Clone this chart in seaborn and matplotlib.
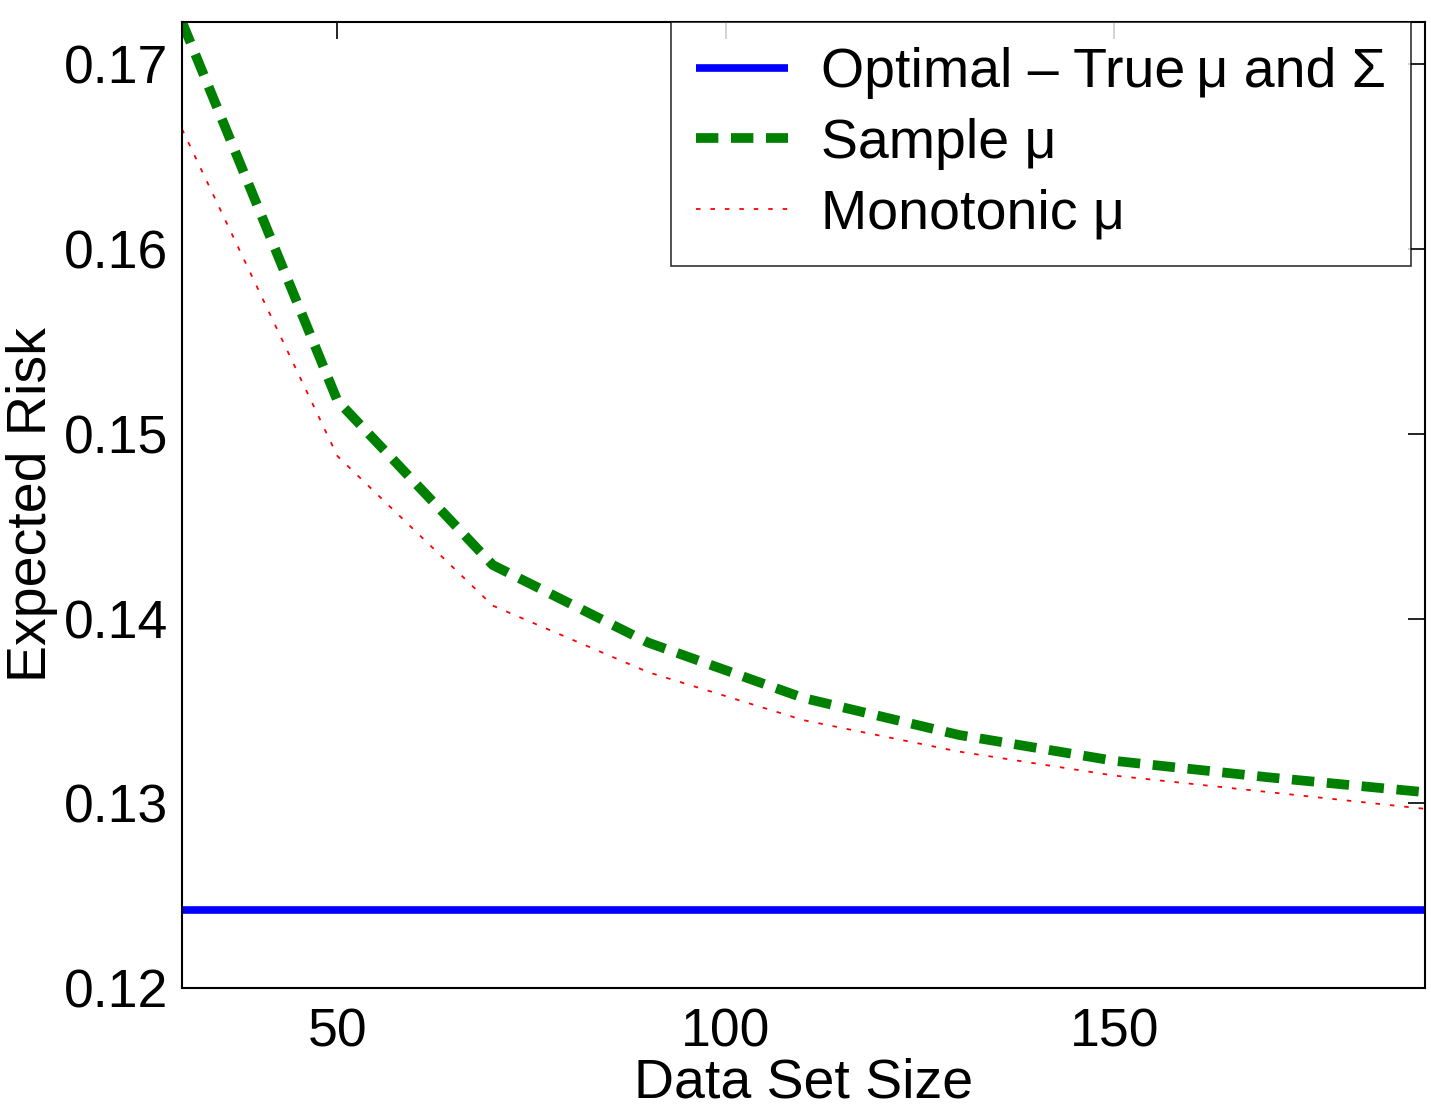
import matplotlib
matplotlib.use("Agg")
import matplotlib.pyplot as plt
import seaborn as sns
import pandas as pd

sizes = [30, 50, 70, 90, 110, 130, 150, 170, 190]
optimal = [0.1242] * len(sizes)
sample_mu = [0.1723, 0.1518, 0.1429, 0.1387, 0.1357, 0.1337, 0.1323, 0.1314, 0.1306]
monotonic_mu = [0.1665, 0.1488, 0.1407, 0.1371, 0.1345, 0.1328, 0.1315, 0.1306, 0.1297]

labels = ["Optimal \u2013 True\u2009\u03bc and \u03a3", "Sample \u03bc", "Monotonic \u03bc"]

df = pd.DataFrame({
    "size": sizes * 3,
    "risk": optimal + sample_mu + monotonic_mu,
    "series": [labels[0]] * len(sizes) + [labels[1]] * len(sizes) + [labels[2]] * len(sizes),
})

sns.set_theme(style="white")
plt.rcParams['font.family'] = ['Liberation Sans', 'DejaVu Sans']
plt.rcParams['text.color'] = 'black'
plt.rcParams['axes.labelcolor'] = 'black'

fig = plt.figure(figsize=(14.31, 11.09), dpi=100)
ax = fig.add_axes([0.1272, 0.1091, 0.9958 - 0.1272, 0.9802 - 0.1091])

palette = {labels[0]: "#0000ff", labels[1]: "#008000", labels[2]: "#ff0000"}
sns.lineplot(data=df, x="size", y="risk", hue="series", palette=palette, ax=ax, legend=False)

lines = ax.get_lines()
styles = [
    dict(lw=5.5, ls="-"),
    dict(lw=7.0, ls=(0, (2.3, 1.3))),
    dict(lw=1.3, ls=(0, (2.5, 5.5))),
]
for ln, st in zip(lines, styles):
    ln.set_linewidth(st["lw"])
    ln.set_linestyle(st["ls"])
    ln.set_solid_capstyle("butt")
    ln.set_dash_capstyle("butt")

ax.set_xlim(30, 190)
ax.set_ylim(0.12, 0.1723)
ax.set_xticks([50, 100, 150])
ax.set_yticks([0.12, 0.13, 0.14, 0.15, 0.16, 0.17])
ax.set_yticklabels(["0.12", "0.13", "0.14", "0.15", "0.16", "0.17"])
ax.tick_params(direction="in", length=12, width=1.2, top=True, right=True,
               labelsize=38.5, colors="black")
ax.tick_params(axis="y", pad=10)
ax.tick_params(axis="x", pad=14)
for s in ax.spines.values():
    s.set_color("black")
    s.set_linewidth(1.5)
ax.set_xlabel("Data Set Size", fontsize=40, labelpad=0, color="black")
ax.set_ylabel("Expected Risk", fontsize=40, labelpad=4, color="black")

leg = ax.legend(lines, labels, loc="upper right", fontsize=40, frameon=True,
                fancybox=False, edgecolor="black", handlelength=1.65,
                borderaxespad=0.0, handletextpad=0.6, labelspacing=0.34,
                borderpad=0.45, bbox_to_anchor=(0.9887, 1.0))
leg.get_frame().set_linewidth(1.2)
for t in leg.get_texts():
    t.set_color("black")

fig.savefig("out.png", dpi=100)
